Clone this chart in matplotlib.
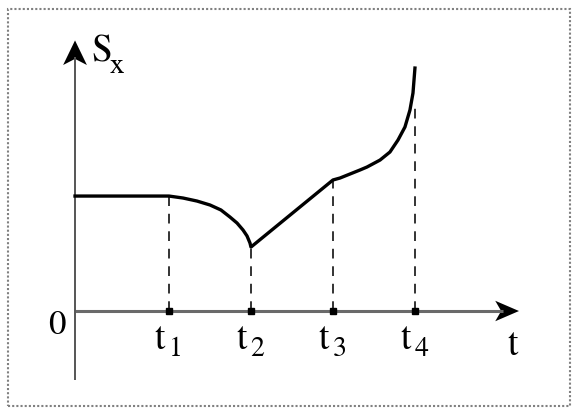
import numpy as np
import matplotlib.pyplot as plt
from matplotlib.patches import Rectangle, Polygon

plt.rcParams['mathtext.fontset'] = 'stix'

# tick moments on the time axis
t_marks = [1.146, 2.146, 3.146, 4.146]
t_names = ['1', '2', '3', '4']
# height of the dashed guide lines
guide_top = [1.40, 0.78, 1.60, 2.55]

# S_x(t)
t_curve = [0.0, 1.146, 1.317, 1.488, 1.646, 1.780, 1.890, 1.976, 2.049, 2.098,
           2.134, 2.146, 3.146, 3.232, 3.354, 3.476, 3.561, 3.720, 3.841, 3.939,
           4.024, 4.085, 4.122, 4.146]
s_curve = [1.402, 1.402, 1.378, 1.341, 1.293, 1.232, 1.146, 1.073, 0.988, 0.915,
           0.829, 0.780, 1.598, 1.622, 1.671, 1.720, 1.756, 1.841, 1.939, 2.085,
           2.244, 2.451, 2.659, 2.963]

x_end = 5.415
y_top = 3.30
y_bottom = -0.84


def rm(s):
    # Times-like upright glyphs through mathtext
    return r'$\mathrm{%s}$' % s


fig = plt.figure(figsize=(5.75, 4.09), dpi=100)
ax = fig.add_axes([0, 0, 1, 1])
ax.set_xlim(-0.915, 6.098)
ax.set_ylim(-1.195, 3.793)
ax.axis('off')

# frame around the picture
fig.patches.append(Rectangle((0.014, 0.007), 0.977, 0.971, transform=fig.transFigure,
                             fill=False, edgecolor='#808080', lw=1.5, ls=(0, (1, 1))))

# axes
ax.plot([0, x_end - 0.2], [0, 0], color='#6a6a6a', lw=2.2, solid_capstyle='butt')
ax.plot([0, 0], [y_bottom, y_top - 0.2], color='#555555', lw=1.4, solid_capstyle='butt')

hl, hw = 0.29, 0.125
ax.add_patch(Polygon([[x_end, 0], [x_end - hl, hw], [x_end - hl * 0.75, 0], [x_end - hl, -hw]],
                     closed=True, color='black', lw=0))
hl, hw = 0.30, 0.145
ax.add_patch(Polygon([[0, y_top], [hw, y_top - hl], [0, y_top - hl * 0.75], [-hw, y_top - hl]],
                     closed=True, color='black', lw=0))

# dashed guides and tick dots
for tm, top in zip(t_marks, guide_top):
    ax.plot([tm, tm], [0, top], color='#333333', lw=1.4, ls=(0, (5, 4)))
ax.plot(t_marks, [0] * len(t_marks), 's', color='black', ms=4)

# the curve
ax.plot(t_curve, s_curve, color='black', lw=2.4, solid_joinstyle='round')

# labels: letter and subscript drawn as two texts
for tm, nm in zip(t_marks, t_names):
    ax.text(tm - 0.03, -0.46, rm('t'), fontsize=27, ha='right', va='baseline')
    ax.text(tm - 0.01, -0.55, rm(nm), fontsize=20, ha='left', va='baseline')
ax.text(5.35, -0.42, rm('t'), fontsize=27, ha='center', va='center')
ax.text(-0.22, -0.16, rm('0'), fontsize=25, ha='center', va='center')
ax.text(0.2, 3.06, rm('S'), fontsize=27, ha='left', va='baseline')
ax.text(0.42, 2.90, rm('x'), fontsize=21, ha='left', va='baseline')

fig.savefig('out.png', dpi=100)
